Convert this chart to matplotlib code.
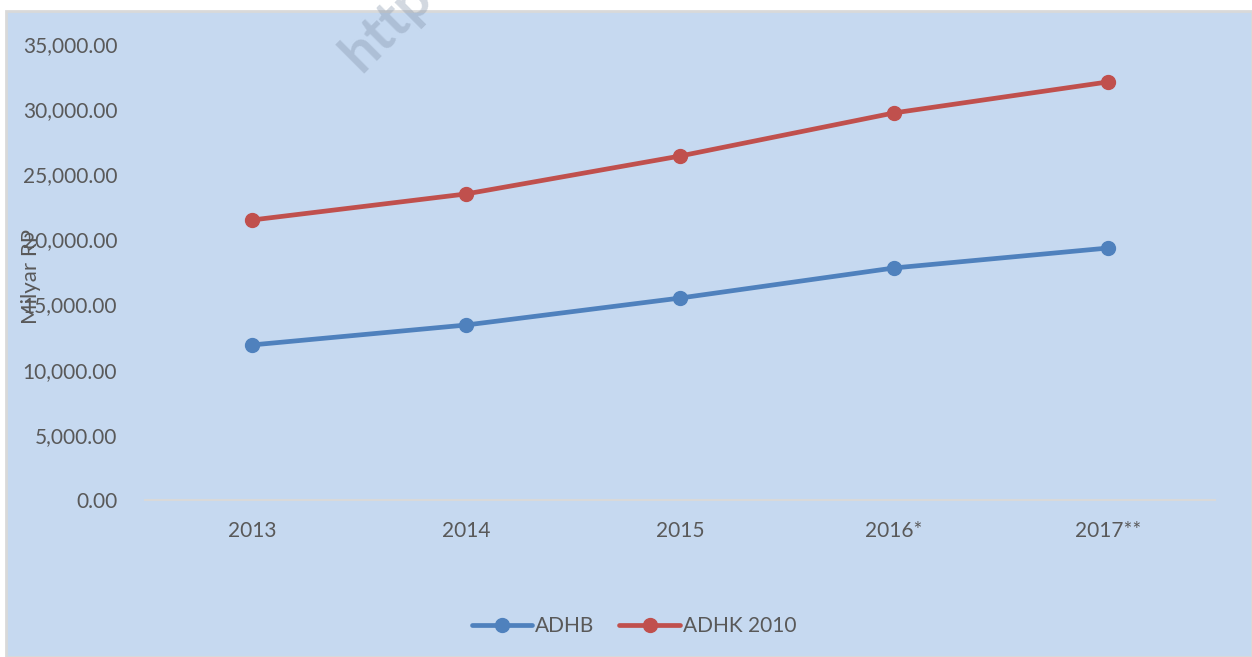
import matplotlib
matplotlib.use("Agg")
import matplotlib.pyplot as plt
from matplotlib.patches import Rectangle
from matplotlib.ticker import FuncFormatter

years = ["2013", "2014", "2015", "2016*", "2017**"]
adhb = [11900, 13430, 15500, 17810, 19340]
adhk = [21490, 23490, 26400, 29710, 32090]
series_names = ["ADHB", "ADHK 2010"]
y_ticks = [0, 5000, 10000, 15000, 20000, 25000, 30000, 35000]

plt.rcParams['font.family'] = ['Lato', 'DejaVu Sans']
txt = '#595959'
bg = '#c6d9f0'

fig = plt.figure(figsize=(12.52, 6.57), dpi=100)
fig.patch.set_facecolor('white')
fig.add_artist(Rectangle((6/1252, 0), 1 - 6/1252, 1 - 11/657, transform=fig.transFigure,
                         facecolor=bg, edgecolor='#d9d9d9', linewidth=2, zorder=0))

ax = fig.add_axes([145/1252, 1 - 500/657, (1215 - 145)/1252, (500 - 44)/657])
ax.set_facecolor('none')
x = list(range(len(years)))
ax.plot(x, adhb, color='#4f81bd', lw=3.4, marker='o', ms=10, label=series_names[0],
        solid_capstyle='round', clip_on=False)
ax.plot(x, adhk, color='#c0504d', lw=3.4, marker='o', ms=10, label=series_names[1],
        solid_capstyle='round', clip_on=False)
ax.set_xlim(-0.5, 4.5)
ax.set_ylim(0, 35000)
ax.set_yticks(y_ticks)
ax.yaxis.set_major_formatter(FuncFormatter(lambda v, p: f"{v:,.2f}"))
ax.set_xticks(x)
ax.set_xticklabels(years)
for s in ['top', 'right', 'left']:
    ax.spines[s].set_visible(False)
ax.spines['bottom'].set_color('#d9d9d9')
ax.spines['bottom'].set_linewidth(1.5)
ax.tick_params(axis='both', length=0, labelsize=15, labelcolor=txt)
ax.tick_params(axis='y', pad=20)
ax.tick_params(axis='x', pad=15)

fig.text(31/1252, 1 - 276/657, "Milyar RP", rotation=90, ha='center', va='center',
         fontsize=16, color=txt)

leg = fig.legend(loc='center', bbox_to_anchor=(634/1252, 1 - 626/657), ncol=2, frameon=False,
                 fontsize=15, labelcolor=txt, handlelength=2.9, handletextpad=0.15,
                 columnspacing=1.2)

fig.text(410/1252, 1 - 2/657, "http://", rotation=45, ha='center', va='center',
         fontsize=40, fontweight='bold', color='#7f8fa6', alpha=0.35)

fig.savefig("out.png", dpi=100, facecolor=fig.get_facecolor())
